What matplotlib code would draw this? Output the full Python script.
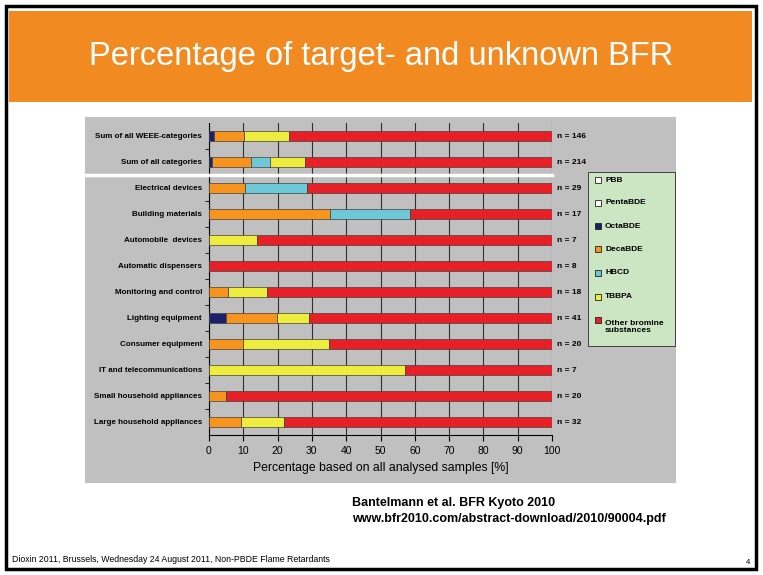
import matplotlib.pyplot as plt
from matplotlib.patches import Rectangle
import numpy as np

plt.rcParams['font.family'] = ['Liberation Sans', 'DejaVu Sans']

categories = ['Sum of all WEEE-categories', 'Sum of all categories', 'Electrical devices',
              'Building materials', 'Automobile  devices', 'Automatic dispensers',
              'Monitoring and control', 'Lighting equipment', 'Consumer equipment',
              'IT and telecommunications', 'Small household appliances', 'Large household appliances']
n_labels = ['n = 146', 'n = 214', 'n = 29', 'n = 17', 'n = 7', 'n = 8',
            'n = 18', 'n = 41', 'n = 20', 'n = 7', 'n = 20', 'n = 32']

pbb = [0, 0, 0, 0, 0, 0, 0, 0, 0, 0, 0, 0]
penta = [0, 0, 0, 0, 0, 0, 0, 0, 0, 0, 0, 0]
octa = [1.5, 1.0, 0, 0, 0, 0, 0, 5.0, 0, 0, 0, 0]
deca = [8.7, 11.1, 10.6, 35.3, 0, 0, 5.5, 14.7, 9.9, 0, 5.0, 9.4]
hbcd = [0, 5.7, 17.9, 23.4, 0, 0, 0, 0, 0, 0, 0, 0]
tbbpa = [13.1, 10.3, 0, 0, 13.9, 0, 11.3, 9.4, 25.2, 57.2, 0, 12.4]

series = ['PBB', 'PentaBDE', 'OctaBDE', 'DecaBDE', 'HBCD', 'TBBPA', 'Other bromine\nsubstances']
colors = ['white', 'white', '#1c1f6b', '#f7941d', '#6dc8d8', '#eeec3c', '#e62026']

known = np.array([pbb, penta, octa, deca, hbcd, tbbpa])
other = 100 - known.sum(axis=0)
values = list(known) + [other]

fig = plt.figure(figsize=(7.63, 5.75), dpi=100)
W, H = 763, 575

def fx(x):
    return x / W

def fy(y):
    return 1 - y / H

# slide frame and header
fig.patches.append(Rectangle((fx(6), fy(569)), fx(750), (563) / H, transform=fig.transFigure,
                             facecolor='white', edgecolor='black', lw=2.5, zorder=0))
fig.patches.append(Rectangle((fx(9), fy(102)), fx(743), 91 / H, transform=fig.transFigure,
                             facecolor='#f28a22', edgecolor='none', zorder=1))
fig.text(fx(381), fy(57), 'Percentage of target- and unknown BFR', color='white',
         fontsize=23.5, ha='center', va='center', zorder=2)

# gray chart panel
fig.patches.append(Rectangle((fx(85), fy(483)), fx(591), 366 / H, transform=fig.transFigure,
                             facecolor='#c0c0c0', edgecolor='none', zorder=1))

ax = fig.add_axes([fx(209), fy(435), fx(343), 312 / H])
ax.set_facecolor('#c0c0c0')
ax.set_zorder(2)
y = np.arange(len(categories))
left = np.zeros(len(categories))
for vals, col in zip(values, colors):
    ax.barh(y, vals, left=left, height=0.42, color=col, edgecolor='#404040', linewidth=0.5, zorder=3)
    left = left + vals

ax.set_xlim(0, 100)
ax.set_ylim(len(categories) - 0.5, -0.5)
ax.set_xticks(range(0, 101, 10))
ax.set_xticklabels([str(v) for v in range(0, 101, 10)], fontsize=7.5)
ax.set_yticks(y)
ax.set_yticklabels(categories, fontsize=5.8, fontweight='bold')
ax.set_yticks(np.arange(0.5, len(categories) - 1, 1), minor=True)
ax.tick_params(axis='y', which='major', length=0, pad=5)
ax.tick_params(axis='y', which='minor', length=3, direction='out')
ax.tick_params(axis='x', length=4, direction='out', pad=4)
ax.grid(axis='x', color='#303030', lw=0.8, zorder=1)
for s in ['top', 'right']:
    ax.spines[s].set_visible(False)
ax.set_xlabel('Percentage based on all analysed samples [%]', fontsize=8.8, labelpad=4)

# white separator between summary rows and categories
ax.plot([-36, 100], [1.5, 1.5], color='white', lw=2.5, clip_on=False, zorder=4)

for yi, lab in zip(y, n_labels):
    ax.text(101.5, yi, lab, fontsize=6, fontweight='bold', va='center', ha='left')

# legend
fig.patches.append(Rectangle((fx(588), fy(346)), fx(87), 174 / H, transform=fig.transFigure,
                             facecolor='#cce6c4', edgecolor='#404040', lw=0.7, zorder=3))
leg_y = [180, 203, 226, 249, 273, 297, 320]
for ly, name, col in zip(leg_y, series, colors):
    fig.patches.append(Rectangle((fx(595), fy(ly + 3)), fx(6), 6 / H, transform=fig.transFigure,
                                 facecolor=col, edgecolor='#202020', lw=0.6, zorder=4))
    fig.text(fx(605), fy(ly), name, fontsize=6, fontweight='bold', va='top' if '\n' in name else 'center',
             ha='left', zorder=4, linespacing=1.1)

# citation and footer
fig.text(fx(352), fy(503), 'Bantelmann et al. BFR Kyoto 2010', fontsize=9, fontweight='bold', va='center')
fig.text(fx(352), fy(519), 'www.bfr2010.com/abstract-download/2010/90004.pdf', fontsize=9,
         fontweight='bold', va='center')
fig.text(fx(12), fy(560), 'Dioxin 2011, Brussels, Wednesday 24 August 2011, Non-PBDE Flame Retardants',
         fontsize=6.3, va='center')
fig.text(fx(748), fy(562), '4', fontsize=5.5, va='center', ha='center')

fig.savefig('out.png', dpi=100)
